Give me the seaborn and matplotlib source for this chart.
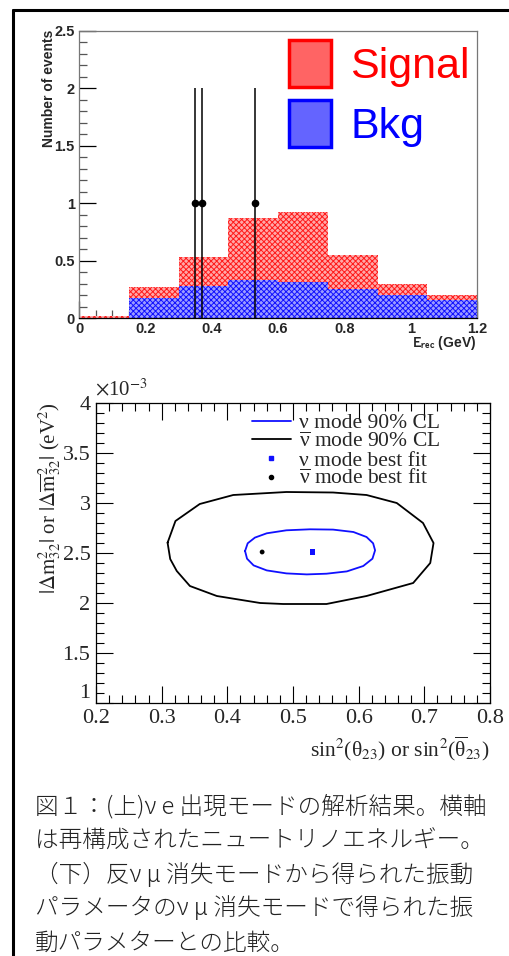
import numpy as np
import pandas as pd
import matplotlib
matplotlib.use("Agg")
import matplotlib.pyplot as plt
import seaborn as sns
from matplotlib.patches import Patch
from matplotlib.lines import Line2D
from matplotlib.font_manager import FontProperties
from matplotlib.ticker import MultipleLocator, FuncFormatter

sns.set_theme(style="white")
plt.rcParams['font.family'] = ['Liberation Sans', 'DejaVu Sans']
plt.rcParams['hatch.linewidth'] = 0.7

# ---------------- data: top (nu-e appearance) ----------------
bin_edges = [0.0, 0.15, 0.30, 0.45, 0.60, 0.75, 0.90, 1.05, 1.20]
signal = [0.010, 0.093, 0.249, 0.546, 0.609, 0.296, 0.100, 0.043]
background = [0.004, 0.174, 0.279, 0.328, 0.311, 0.250, 0.200, 0.157]
data_x = [0.35, 0.37, 0.53]
data_y = [1.0, 1.0, 1.0]
data_err = [1.0, 1.0, 1.0]
top_xticks = [0, 0.2, 0.4, 0.6, 0.8, 1.0, 1.2]
top_xticklabels = ["0", "0.2", "0.4", "0.6", "0.8", "1", "1.2"]
top_yticks = [0, 0.5, 1.0, 1.5, 2.0, 2.5]
top_yticklabels = ["0", "0.5", "1", "1.5", "2", "2.5"]

# ---------------- data: bottom (oscillation contours) ----------------
nu_cl_x = [0.427, 0.431, 0.442, 0.460, 0.490, 0.526, 0.561, 0.592, 0.612, 0.622,
           0.625, 0.621, 0.607, 0.582, 0.551, 0.521, 0.490, 0.460, 0.440, 0.430, 0.427]
nu_cl_y = [2.520, 2.597, 2.654, 2.697, 2.727, 2.737, 2.734, 2.710, 2.660, 2.597,
           2.527, 2.443, 2.370, 2.316, 2.293, 2.286, 2.296, 2.326, 2.376, 2.443, 2.520]
anu_cl_x = [0.309, 0.321, 0.358, 0.409, 0.490, 0.561, 0.612, 0.658, 0.698, 0.714,
            0.709, 0.683, 0.612, 0.551, 0.485, 0.450, 0.384, 0.343, 0.323, 0.313, 0.309]
anu_cl_y = [2.603, 2.820, 2.990, 3.080, 3.110, 3.105, 3.080, 3.000, 2.800, 2.600,
            2.400, 2.200, 2.070, 1.990, 1.990, 2.000, 2.070, 2.170, 2.320, 2.440, 2.603]
nu_best = (0.530, 2.51)
anu_best = (0.453, 2.51)
dm_scale = 1e-3

caption_lines = [
    "図１：(上)ν e 出現モードの解析結果。横軸",
    "は再構成されたニュートリノエネルギー。",
    "（下）反ν μ 消失モードから得られた振動",
    "パラメータのν μ 消失モードで得られた振",
    "動パラメターとの比較。",
]

W, H = 510, 956
fig = plt.figure(figsize=(W / 100, H / 100), dpi=100)

def ax_rect(l, t, r, b):
    return [l / W, 1 - b / H, (r - l) / W, (b - t) / H]

# ================= TOP PANEL =================
ax1 = fig.add_axes(ax_rect(79, 31, 477, 318))
centers = [(a + b) / 2 for a, b in zip(bin_edges[:-1], bin_edges[1:])]
total = [s + b for s, b in zip(signal, background)]
df_tot = pd.DataFrame({"E": centers, "w": total})
df_bkg = pd.DataFrame({"E": centers, "w": background})

sns.histplot(data=df_tot, x="E", weights="w", bins=bin_edges, element="step",
             fill=True, color="red", alpha=1.0, linewidth=1.6, ax=ax1)
coll = ax1.collections[-1]
coll.set_facecolor("#ffa8a8")
coll.set_edgecolor("#ff1a1a")
coll.set_hatch("xxxxxx")
coll.set_linewidth(0)

sns.histplot(data=df_bkg, x="E", weights="w", bins=bin_edges, element="step",
             fill=True, color="blue", alpha=1.0, linewidth=1.4, ax=ax1)
coll = ax1.collections[-1]
coll.set_facecolor("#9c9cff")
coll.set_edgecolor("#1010ff")
coll.set_hatch("xxxxxx")
coll.set_linewidth(0)
for ln in ax1.lines:
    ln.set_zorder(4)

ax1.errorbar(data_x, data_y, yerr=data_err, fmt="o", color="black", ms=4.5,
             elinewidth=1.1, capsize=0, zorder=5)

ax1.set_xlim(0, 1.2)
ax1.set_ylim(0, 2.5)
ax1.set_xticks(top_xticks)
ax1.set_xticklabels(top_xticklabels)
ax1.set_yticks(top_yticks)
ax1.set_yticklabels(top_yticklabels)
ax1.xaxis.set_minor_locator(MultipleLocator(0.05))
ax1.yaxis.set_minor_locator(MultipleLocator(0.1))
ax1.tick_params(which="both", direction="in", width=0.9,
                bottom=True, left=True, top=False, right=False)
ax1.tick_params(which="major", length=12, color="black", labelsize=10.5, pad=3)
ax1.tick_params(which="minor", length=6, color="#555555")
for lab in ax1.get_xticklabels() + ax1.get_yticklabels():
    lab.set_fontweight("bold")
for sp in ax1.spines.values():
    sp.set_color("#777777")
    sp.set_linewidth(0.9)
ax1.spines["bottom"].set_color("black")
ax1.spines["bottom"].set_zorder(6)
ax1.set_ylabel("")
ax1.set_xlabel("")
fig.text(49 / W, 1 - 30 / H, "Number of events", rotation=90, ha="center",
         va="top", fontsize=10, fontweight="bold")
fig.text(476 / W, 1 - 347 / H, r"$\mathbf{E_{rec}}$ (GeV)", ha="right",
         va="baseline", fontsize=10, fontweight="bold",
         math_fontfamily="stixsans")

leg1 = ax1.legend(handles=[Patch(facecolor="#ff6464", edgecolor="red", lw=2.5),
                           Patch(facecolor="#6464ff", edgecolor="blue", lw=2.5)],
                  labels=["Signal", "Bkg"], loc="upper left",
                  bbox_to_anchor=((289 - 79) / 398, (318 - 40) / 287),
                  frameon=False, fontsize=31, handlelength=0.98,
                  handleheight=1.3, handletextpad=0.44, labelspacing=0.3,
                  borderpad=0, borderaxespad=0)
leg1.get_texts()[0].set_color("red")
leg1.get_texts()[1].set_color("blue")

# ================= BOTTOM PANEL =================
ax2 = fig.add_axes(ax_rect(96, 403, 490, 703))
serif = ["Liberation Serif", "DejaVu Serif"]
df_nu = pd.DataFrame({"s": nu_cl_x, "dm": np.array(nu_cl_y) * dm_scale})
df_anu = pd.DataFrame({"s": anu_cl_x, "dm": np.array(anu_cl_y) * dm_scale})
sns.lineplot(data=df_nu, x="s", y="dm", sort=False, estimator=None,
             color="#1010ff", lw=1.3, ax=ax2)
sns.lineplot(data=df_anu, x="s", y="dm", sort=False, estimator=None,
             color="black", lw=1.3, ax=ax2)
sns.scatterplot(x=[nu_best[0]], y=[nu_best[1] * dm_scale], marker="s", s=14,
                color="#1010ff", edgecolor="none", ax=ax2)
sns.scatterplot(x=[anu_best[0]], y=[anu_best[1] * dm_scale], marker="o", s=12,
                color="black", edgecolor="none", ax=ax2)

ax2.set_xlim(0.2, 0.8)
ax2.set_ylim(1e-3, 4e-3)
ax2.xaxis.set_major_locator(MultipleLocator(0.1))
ax2.xaxis.set_minor_locator(MultipleLocator(0.02))
ax2.yaxis.set_major_locator(MultipleLocator(0.5e-3))
ax2.yaxis.set_minor_locator(MultipleLocator(0.1e-3))
ax2.yaxis.set_major_formatter(FuncFormatter(lambda v, p: f"{v / dm_scale:g}"))
ax2.xaxis.set_major_formatter(FuncFormatter(lambda v, p: f"{v:.1f}"))
ax2.tick_params(which="both", direction="in", color="black", width=0.8,
                bottom=True, left=True, top=True, right=True)
ax2.tick_params(which="major", length=12, labelsize=16, pad=4)
ax2.tick_params(which="minor", length=6)
for sp in ax2.spines.values():
    sp.set_color("black")
    sp.set_linewidth(0.9)
ax2.set_xlabel("")
ax2.set_ylabel("")
fig.canvas.draw()
for lab in ax2.get_xticklabels() + ax2.get_yticklabels():
    lab.set_fontfamily(serif)
for tk in ax2.yaxis.get_major_ticks():
    if abs(tk.get_loc() - 1e-3) < 1e-9:
        tk.label1.set_verticalalignment("bottom")
fig.text(95 / W, 1 - 395 / H, r"$\times$10$^{-3}$", ha="left", va="baseline",
         fontsize=15, family=serif, math_fontfamily="stix")
fig.text(50 / W, 1 - 402 / H,
         r"$|\Delta \mathrm{m}^2_{32}|$ or $|\Delta \overline{\mathrm{m}}^2_{32}|$ (eV$^2$)",
         rotation=90, ha="center", va="top", fontsize=15, family=serif,
         math_fontfamily="stix")
fig.text(490 / W, 1 - 756 / H,
         r"sin$^2$(θ$_{23}$) or sin$^2$($\overline{\mathregular{θ}}_{23}$)",
         ha="right", va="baseline", fontsize=15.5, family=serif,
         math_fontfamily="stix")

prop = FontProperties(family=serif, size=15.5, math_fontfamily="stix")
handles2 = [Line2D([], [], color="#1010ff", lw=1.3),
            Line2D([], [], color="black", lw=1.3),
            Line2D([], [], color="#1010ff", marker="s", ls="none", ms=3.5),
            Line2D([], [], color="black", marker="o", ls="none", ms=3)]
labels2 = ["ν mode 90% CL", r"$\overline{\mathregular{ν}}$ mode 90% CL",
           "ν mode best fit", r"$\overline{\mathregular{ν}}$ mode best fit"]
ax2.legend(handles=handles2, labels=labels2, loc="upper left",
           bbox_to_anchor=((252 - 96) / 394, (703 - 413) / 300), frameon=False,
           prop=prop, handlelength=1.8, handletextpad=0.4, labelspacing=-0.06,
           borderpad=0, borderaxespad=0)

# ================= frame & caption =================
fig.add_artist(Line2D([13 / W, 1.0], [1 - 10 / H, 1 - 10 / H],
                      transform=fig.transFigure, color="black", lw=2.2))
fig.add_artist(Line2D([13 / W, 13 / W], [0.0, 1 - 10 / H],
                      transform=fig.transFigure, color="black", lw=2.2))

cap_y = [807, 841, 875, 909, 943]
for line, y in zip(caption_lines, cap_y):
    fig.text(35 / W, 1 - y / H, line, ha="left", va="center", fontsize=17,
             family=["Noto Sans CJK JP", "DejaVu Sans"], fontweight="light",
             color="#222222")

fig.savefig("out.png", dpi=100)
